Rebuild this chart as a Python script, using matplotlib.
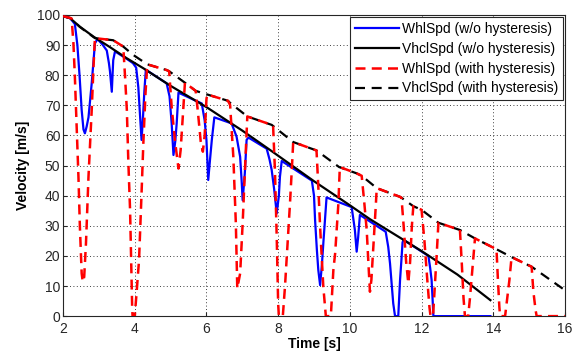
import matplotlib
matplotlib.use("Agg")
import matplotlib.pyplot as plt

plt.rcParams['font.family'] = ['Liberation Sans', 'DejaVu Sans']

# VhclSpd (w/o hysteresis)
vhcl_t = [2.0, 2.2, 2.47, 2.85, 3.31, 3.78, 4.24, 4.98, 6.0, 7.0, 7.77, 9.0,
          10.0, 10.56, 11.5, 12.0, 13.0, 13.92]
vhcl_v = [99.6, 98.9, 96.1, 92.8, 89.3, 85.6, 82.3, 76.6, 69.4, 61.6, 55.2, 44.8,
          36.8, 32.2, 25.3, 21.6, 13.8, 5.3]

# WhlSpd (w/o hysteresis)
whl_t = [2.0, 2.2, 2.33, 2.40, 2.46, 2.52, 2.57, 2.61, 2.66, 2.71, 2.80, 2.89, 2.96,
         3.10, 3.22, 3.28, 3.31, 3.36, 3.40, 3.45,
         3.78, 3.95, 4.04, 4.10, 4.15, 4.19, 4.23, 4.27, 4.31,
         4.89, 4.97, 5.03, 5.08, 5.13, 5.17, 5.22,
         5.87, 5.95, 6.0, 6.05, 6.10, 6.15, 6.22,
         6.70, 6.84, 6.94, 6.98, 7.01, 7.07, 7.12, 7.17,
         7.68, 7.76, 7.82, 7.89, 7.96, 8.02, 8.05, 8.10,
         8.94, 9.0, 9.03, 9.08, 9.12, 9.17, 9.22, 9.26, 9.35,
         10.05, 10.10, 10.14, 10.19, 10.23, 10.28,
         11.0, 11.07, 11.12, 11.21, 11.26, 11.35, 11.40, 11.44, 11.47, 11.50,
         12.19, 12.24, 12.28, 12.31, 12.33, 13.92]
whl_v = [99.6, 98.9, 97.0, 90.0, 80.0, 68.4, 62.0, 60.7, 63.0, 66.0, 77.3, 90.6, 92.0,
         90.2, 88.2, 84.0, 81.2, 74.5, 85.0, 87.9,
         85.4, 84.0, 82.5, 76.0, 66.2, 58.5, 66.0, 75.0, 81.8,
         77.3, 73.0, 64.0, 53.5, 58.0, 64.0, 74.2,
         70.6, 65.0, 58.5, 45.2, 52.0, 58.5, 66.0,
         64.0, 59.6, 52.9, 45.2, 38.5, 47.4, 58.5, 59.3,
         55.6, 52.0, 48.5, 42.0, 34.1, 40.0, 46.3, 51.5,
         45.0, 40.0, 31.9, 22.0, 15.3, 10.3, 17.0, 24.2, 39.4,
         36.2, 32.0, 28.6, 21.4, 26.0, 33.6,
         28.0, 23.0, 17.5, 4.2, 0.0, 0.0, 12.0, 19.0, 24.5, 25.3,
         20.0, 16.0, 12.0, 5.0, 0.0, 0.0]

# VhclSpd (with hysteresis)
vhcl_h_t = [2.0, 2.2, 2.47, 2.89, 3.40, 3.68, 3.96, 4.35, 4.89, 4.96, 5.40, 5.70,
            6.02, 6.60, 6.66, 7.14, 7.82, 8.42, 9.07, 9.70, 10.19, 10.33, 10.75,
            11.40, 11.44, 11.77, 12.0, 12.47, 13.07, 13.49, 14.09, 14.51, 15.07, 16.0]
vhcl_h_v = [99.6, 99.0, 96.0, 92.3, 91.6, 89.5, 86.7, 83.6, 81.7, 81.3, 77.5, 74.8,
            73.6, 71.5, 70.8, 66.3, 63.5, 57.8, 55.0, 49.5, 47.4, 46.6, 42.5,
            39.6, 39.3, 36.5, 35.3, 31.0, 28.6, 25.8, 22.2, 19.6, 16.4, 8.6]

# WhlSpd (with hysteresis)
whl_h_t = [2.0, 2.2, 2.24, 2.29, 2.33, 2.43, 2.47, 2.52, 2.55, 2.59, 2.64, 2.71, 2.80, 2.85, 2.89,
           3.40, 3.68, 3.73, 3.78, 3.82, 3.87, 3.90, 3.93, 3.94, 4.0, 4.05, 4.12, 4.19, 4.24, 4.30, 4.35,
           4.89, 4.96, 5.03, 5.12, 5.22, 5.28, 5.34, 5.40,
           5.70, 5.76, 5.84, 5.90, 5.95, 6.0, 6.02,
           6.60, 6.66, 6.75, 6.82, 6.86, 6.94, 7.01, 7.07, 7.14,
           7.82, 7.86, 7.91, 7.96, 8.0, 8.02, 8.13, 8.19, 8.24, 8.33, 8.39, 8.42,
           9.07, 9.12, 9.17, 9.26, 9.33, 9.47, 9.54, 9.59, 9.68, 9.72,
           10.19, 10.33, 10.40, 10.47, 10.52, 10.56, 10.60, 10.66, 10.72, 10.75,
           11.40, 11.44, 11.50, 11.57, 11.63, 11.68, 11.73, 11.77,
           12.0, 12.08, 12.16, 12.22, 12.25, 12.32, 12.36, 12.42, 12.47,
           13.07, 13.12, 13.17, 13.21, 13.30, 13.35, 13.42, 13.49,
           14.09, 14.13, 14.17, 14.19, 14.33, 14.38, 14.45, 14.51,
           15.07, 15.12, 15.18, 15.21, 16.0]
whl_h_v = [99.6, 99.0, 98.8, 90.6, 79.5, 46.3, 29.7, 14.2, 11.4, 13.0, 24.2, 46.3, 68.4, 82.8, 92.3,
           91.6, 89.5, 79.5, 68.4, 51.8, 35.2, 18.6, 2.0, 0.0, 0.0, 7.5, 18.6, 40.8, 57.4, 74.0, 83.6,
           81.7, 81.3, 69.5, 58.5, 49.0, 55.1, 66.2, 77.5,
           74.8, 68.0, 58.0, 54.6, 60.0, 72.0, 73.6,
           71.5, 70.1, 52.9, 30.8, 9.2, 14.2, 30.8, 47.4, 66.3,
           63.5, 62.9, 48.5, 26.3, 4.2, 0.0, 0.0, 9.7, 19.6, 37.4, 50.7, 57.8,
           55.0, 43.0, 29.7, 9.7, 0.0, 0.0, 15.3, 20.9, 37.4, 49.5,
           47.4, 46.6, 38.0, 28.6, 17.0, 8.1, 12.0, 24.0, 36.0, 42.5,
           39.6, 39.3, 30.0, 18.0, 10.9, 18.0, 30.0, 36.5,
           35.3, 25.0, 12.0, 3.0, 0.0, 0.0, 8.0, 20.0, 31.0,
           28.6, 18.0, 6.0, 0.0, 0.0, 6.0, 16.0, 25.8,
           22.2, 12.0, 3.0, 0.0, 0.0, 5.0, 12.0, 19.6,
           16.4, 8.0, 2.0, 0.0, 0.0]

fig = plt.figure(figsize=(5.73, 3.56), dpi=100)
ax = fig.add_axes([0.110, 0.112, 0.876, 0.846])

ax.plot(whl_t, whl_v, color='#0000ff', lw=1.6, label='WhlSpd (w/o hysteresis)', zorder=3)
ax.plot(vhcl_t, vhcl_v, color='black', lw=1.6, label='VhclSpd (w/o hysteresis)', zorder=4)
ax.plot(whl_h_t, whl_h_v, color='#ff0000', lw=1.8, ls=(0, (4, 2.5)),
        label='WhlSpd (with hysteresis)', zorder=5)
ax.plot(vhcl_h_t, vhcl_h_v, color='black', lw=1.6, ls=(0, (4.5, 3)),
        label='VhclSpd (with hysteresis)', zorder=2)

ax.set_xlim(2, 16)
ax.set_ylim(0, 100)
ax.set_xticks(range(2, 17, 2))
ax.set_yticks(range(0, 101, 10))
ax.grid(True, color='black', ls=(0, (1, 3)), lw=0.6)
ax.tick_params(direction='in', labelsize=10, length=3, colors='#262626')
ax.tick_params(axis='x', pad=4)
ax.tick_params(axis='y', pad=2)
for s in ax.spines.values():
    s.set_linewidth(0.8)
    s.set_color('#262626')

ax.set_xlabel('Time [s]', fontsize=10, fontweight='bold', labelpad=1)
ax.set_ylabel('Velocity [m/s]', fontsize=10, fontweight='bold', labelpad=5)

leg = ax.legend(loc='upper right', fontsize=10, fancybox=False, framealpha=1,
                edgecolor='#262626', handlelength=3.2, handletextpad=0.2,
                borderpad=0.35, labelspacing=0.42, borderaxespad=0.15)
leg.get_frame().set_linewidth(0.8)

fig.savefig('out.png', dpi=100)
